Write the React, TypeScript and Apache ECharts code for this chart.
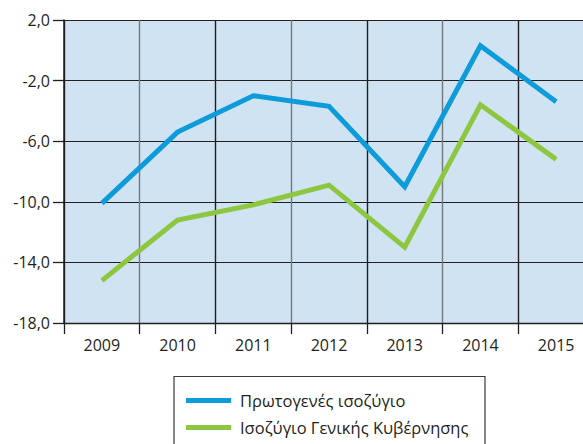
import React, { useEffect, useRef } from 'react';
import * as echarts from 'echarts';

const years = ['2009', '2010', '2011', '2012', '2013', '2014', '2015'];
const primaryBalance = [-10.1, -5.4, -3.0, -3.7, -9.0, 0.3, -3.4];
const generalBalance = [-15.2, -11.2, -10.2, -8.9, -13.0, -3.6, -7.2];
const seriesNames = ['Πρωτογενές ισοζύγιο', 'Ισοζύγιο Γενικής Κυβέρνησης'];
const yMin = -18;
const yMax = 2;
const yStep = 4;

const FONT = 'Open Sans';
const TEXT = '#231f20';

export default function App() {
  const ref = useRef<HTMLDivElement>(null);
  useEffect(() => {
    document.body.style.margin = '0';
    const chart = echarts.init(ref.current!, null, { renderer: 'svg' });
    const shift = (v: number) => v - yMin;
    chart.setOption({
      animation: false,
      textStyle: { fontFamily: FONT, color: TEXT },
      grid: {
        left: 64,
        top: 20,
        width: 530,
        height: 303,
        show: true,
        backgroundColor: '#cfe3f3',
        borderWidth: 0,
        containLabel: false,
        outerBoundsMode: 'none',
      },
      xAxis: {
        type: 'category',
        data: years,
        boundaryGap: true,
        axisLine: { show: true, lineStyle: { color: TEXT, width: 1.3 } },
        axisTick: { show: true, length: 11, interval: 0, lineStyle: { color: TEXT, width: 1.3 } },
        axisLabel: { fontSize: 16, color: TEXT, fontFamily: FONT, margin: 14, interval: 0 },
        splitLine: { show: true, interval: 0, lineStyle: { color: [TEXT, '#77787b'], width: 1.4 } },
      },
      yAxis: {
        type: 'value',
        min: 0,
        max: yMax - yMin,
        interval: yStep,
        axisLine: { show: true, lineStyle: { color: TEXT, width: 1.5 } },
        axisTick: { show: true, length: 11, lineStyle: { color: TEXT, width: 1.3 } },
        axisLabel: {
          fontSize: 16,
          color: TEXT,
          fontFamily: FONT,
          margin: 14,
          formatter: (v: number) => (v + yMin).toFixed(1).replace('.', ','),
        },
        splitLine: { show: true, lineStyle: { color: TEXT, width: 1.2 } },
      },
      legend: {
        orient: 'vertical',
        left: 186,
        top: 392,
        padding: 0,
        icon: 'rect',
        itemWidth: 45,
        itemHeight: 5,
        itemGap: 10,
        textStyle: { fontSize: 16.5, color: TEXT, fontFamily: FONT, lineHeight: 17, padding: [0, 0, 0, 4] },
        data: seriesNames,
      },
      graphic: [
        {
          type: 'rect',
          shape: { x: 174, y: 376.5, width: 311, height: 90 },
          style: { fill: 'none', stroke: '#3a3a3a', lineWidth: 1.2 },
          silent: true,
        },
      ],
      series: [
        {
          name: seriesNames[0],
          type: 'line',
          data: primaryBalance.map(shift),
          symbol: 'none',
          color: '#0d9bd9',
          lineStyle: { width: 5, color: '#0d9bd9', join: 'miter', cap: 'butt' },
        },
        {
          name: seriesNames[1],
          type: 'line',
          data: generalBalance.map(shift),
          symbol: 'none',
          color: '#8dc63f',
          lineStyle: { width: 5, color: '#8dc63f', join: 'miter', cap: 'butt' },
        },
      ],
    });
    return () => chart.dispose();
  }, []);
  return <div ref={ref} style={{ width: 583, height: 444 }} />;
}
